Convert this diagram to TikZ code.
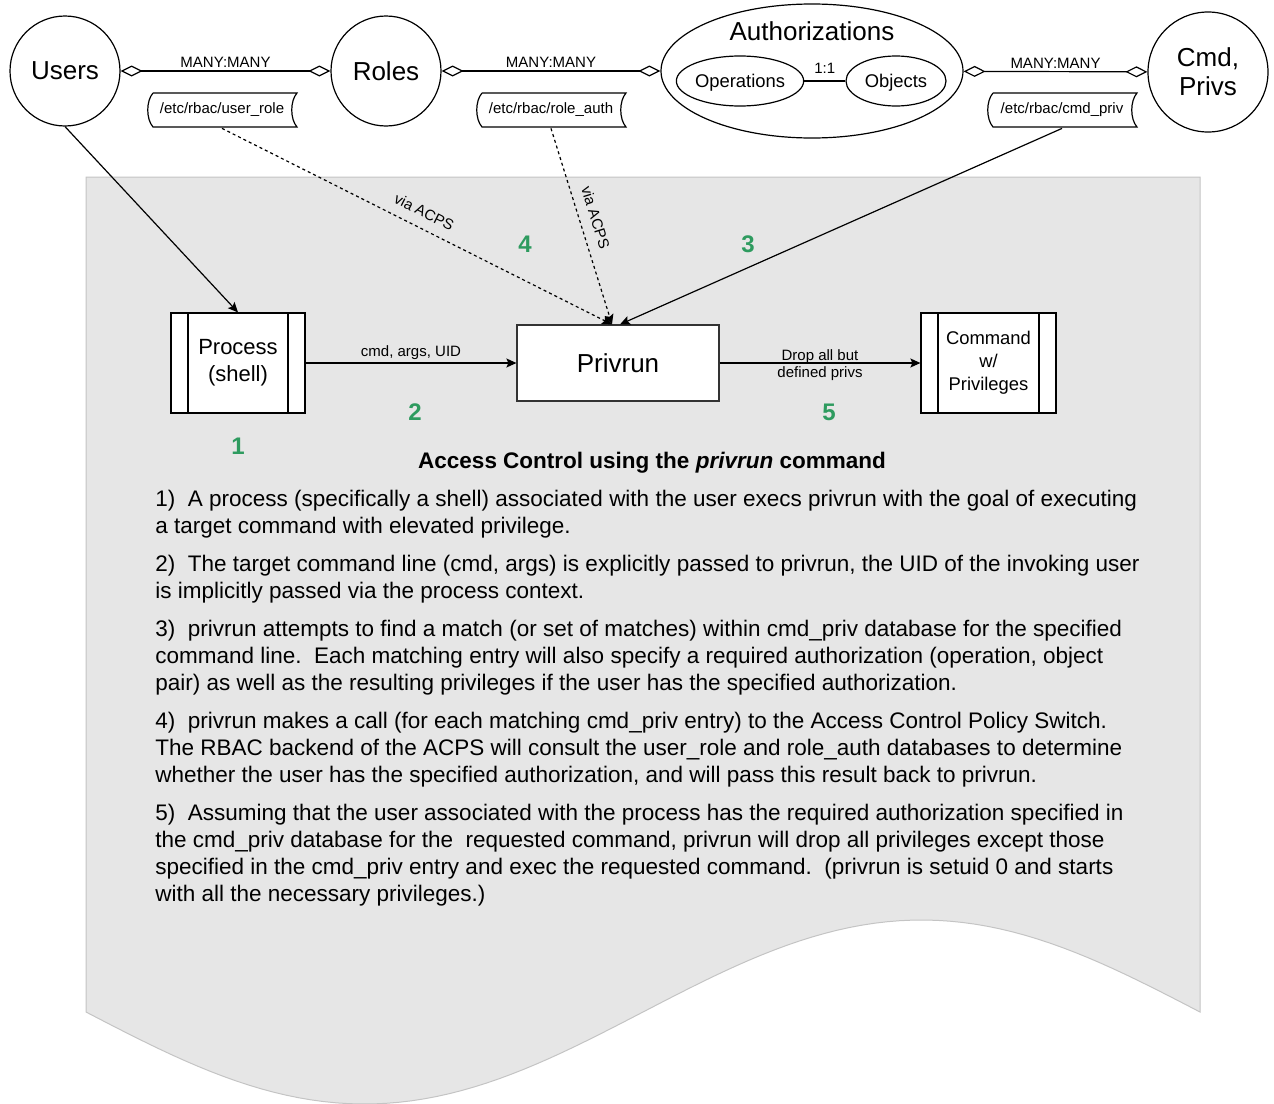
\documentclass[tikz,border=0pt]{standalone}
\usepackage{fontspec}
\setmainfont{Liberation Sans}
\usetikzlibrary{arrows.meta,shapes.geometric}
\definecolor{numgreen}{RGB}{46,155,95}
\definecolor{docgray}{RGB}{230,230,230}
\definecolor{docedge}{RGB}{196,196,196}
\tikzset{
  ent/.style={circle,draw,line width=.6pt,inner sep=0pt,align=center,
              font=\fontsize{13}{14.5}\selectfont},
  oval/.style={ellipse,draw,line width=.6pt,inner sep=0pt,text depth=0pt,
               font=\fontsize{9.2}{11}\selectfont},
  tiny/.style={font=\fontsize{7.5}{8.5}\selectfont,align=center},
  lbl/.style={tiny,inner sep=0pt,above=1.5pt},
  dbtag/.style={tiny,inner sep=0pt,minimum width=76pt,minimum height=18pt,
    path picture={\draw[line width=.6pt]
      ([shift={(7,1)}]path picture bounding box.north west)
      -- ([shift={(-1,1)}]path picture bounding box.north east)
      .. controls +(-7,8) and +(-7,-8) .. ([shift={(-1,-1)}]path picture bounding box.south east)
      -- ([shift={(7,-1)}]path picture bounding box.south west)
      .. controls +(-7,-8) and +(-7,8) .. ([shift={(7,1)}]path picture bounding box.north west);}},
  subproc/.style={draw,fill=white,line width=.6pt,inner sep=0pt,align=center,
    minimum height=50pt,
    path picture={
      \draw[line width=.6pt] ([xshift=8.5pt]path picture bounding box.north west)
        -- ([xshift=8.5pt]path picture bounding box.south west);
      \draw[line width=.6pt] ([xshift=-8.5pt]path picture bounding box.north east)
        -- ([xshift=-8.5pt]path picture bounding box.south east);}},
  ar/.style ={-{Stealth[length=5pt,width=4.5pt,inset=1pt]},line width=.6pt},
  dar/.style={ar,dash pattern=on 1.5pt off 1.5pt},
  many/.style={{Diamond[open,length=11pt,width=5.5pt]}-{Diamond[open,length=11pt,width=5.5pt]},
               line width=.6pt},
  num/.style={font=\fontsize{12}{12}\selectfont\bfseries,text=numgreen},
  body/.style={font=\fontsize{11.25}{13.5}\selectfont,align=left,inner sep=0pt},
}

\begin{document}
\begin{tikzpicture}[x=0.5pt,y=-0.5pt]
  \useasboundingbox (0,0) rectangle (1274,1103);
  % page with wavy bottom
  \filldraw[fill=docgray,draw=docedge,line width=.5pt] (86,177) -- (1200,177) -- (1200,1012)
    -- plot[domain=1200:86,samples=90] (\x,{1012-92*sin((\x-643)/1114*360)}) -- cycle;

  % top: entities and relations
  \node[ent,minimum size=55pt] (users) at (65,71) {Users};
  \node[ent,minimum size=55pt] (roles) at (386,71) {Roles};
  \node[oval,minimum width=151pt,minimum height=67pt] (auth) at (812,71) {};
  \node[font=\fontsize{13}{14.5}\selectfont] (authlbl) at (812,31) {Authorizations};
  \node[oval,minimum width=63pt,minimum height=25pt] (ops) at (740,81) {Operations};
  \node[oval,minimum width=50pt,minimum height=25pt] (objs) at (896,81) {Objects};
  \node[ent,minimum size=60pt] (cmdp) at (1208,72) {Cmd,\\Privs};
  \draw[many] (users) -- node[lbl]{MANY:MANY} (roles);
  \draw[many] (roles) -- node[lbl]{MANY:MANY} (auth);
  \draw[many] (auth) -- node[lbl]{MANY:MANY} (cmdp);
  \draw[line width=.6pt] (ops) -- node[lbl,above=2pt]{1:1} (objs);
  \node[dbtag] (urtag) at (222,110) {/etc/rbac/user\_role};
  \node[dbtag] (ratag) at (551,110) {/etc/rbac/role\_auth};
  \node[dbtag] (cptag) at (1062,110) {/etc/rbac/cmd\_priv};

  % middle: process flow
  \node[subproc,minimum width=67pt,font=\fontsize{11}{13.5}\selectfont] (proc) at (238,363) {Process\\(shell)};
  \node[draw=black!80,fill=white,line width=.6pt,minimum width=101pt,minimum height=38pt,
        font=\fontsize{13}{14.5}\selectfont] (priv) at (618,363) {Privrun};
  \node[subproc,minimum width=67.5pt,font=\fontsize{9.2}{11.5}\selectfont] (cmd) at (988.5,363) {Command\\w/\\Privileges};
  \draw[ar] (users.south) -- (proc.north);
  \draw[ar] (proc) -- node[lbl]{cmd, args, UID} (priv);
  \draw[ar] (priv) -- node[tiny,yshift=-1pt]{Drop all but\\defined privs} (cmd);
  \draw[dar] (urtag.south) -- node[lbl,sloped,pos=.5,above=3.5pt]{via ACPS} ([xshift=-3pt]priv.north);
  \draw[dar] (ratag.south) -- node[lbl,sloped,pos=.48,above=3.5pt]{via ACPS} ([xshift=-3pt]priv.north);
  \draw[ar] (cptag.south) -- ([xshift=1pt]priv.north);

  % step numbers
  \node[num] (n1) at (238,446) {1};
  \node[num] (n2) at (415,412) {2};
  \node[num] (n3) at (748,244) {3};
  \node[num] (n4) at (525,244) {4};
  \node[num] (n5) at (829,412) {5};

  % caption and notes
  \node[font=\fontsize{11.25}{13.5}\selectfont\bfseries] (title) at (652,463)
    {Access Control using the \textit{privrun} command};
  \node[body,anchor=north west] (notes) at (155,490) {%
    1)\ \ A process (specifically a shell) associated with the user execs privrun with the goal of executing\\
    a target command with elevated privilege.\\[5.5pt]
    2)\ \ The target command line (cmd, args) is explicitly passed to privrun, the UID of the invoking user\\
    is implicitly passed via the process context.\\[5.5pt]
    3)\ \ privrun attempts to find a match (or set of matches) within cmd\_priv database for the specified\\
    command line.\ \ Each matching entry will also specify a required authorization (operation, object\\
    pair) as well as the resulting privileges if the user has the specified authorization.\\[5.5pt]
    4)\ \ privrun makes a call (for each matching cmd\_priv entry) to the Access Control Policy Switch.\\
    The RBAC backend of the ACPS will consult the user\_role and role\_auth databases to determine\\
    whether the user has the specified authorization, and will pass this result back to privrun.\\[5.5pt]
    5)\ \ Assuming that the user associated with the process has the required authorization specified in\\
    the cmd\_priv database for the\ \ requested command, privrun will drop all privileges except those\\
    specified in the cmd\_priv entry and exec the requested command.\ \ (privrun is setuid 0 and starts\\
    with all the necessary privileges.)};
\end{tikzpicture}
\end{document}
